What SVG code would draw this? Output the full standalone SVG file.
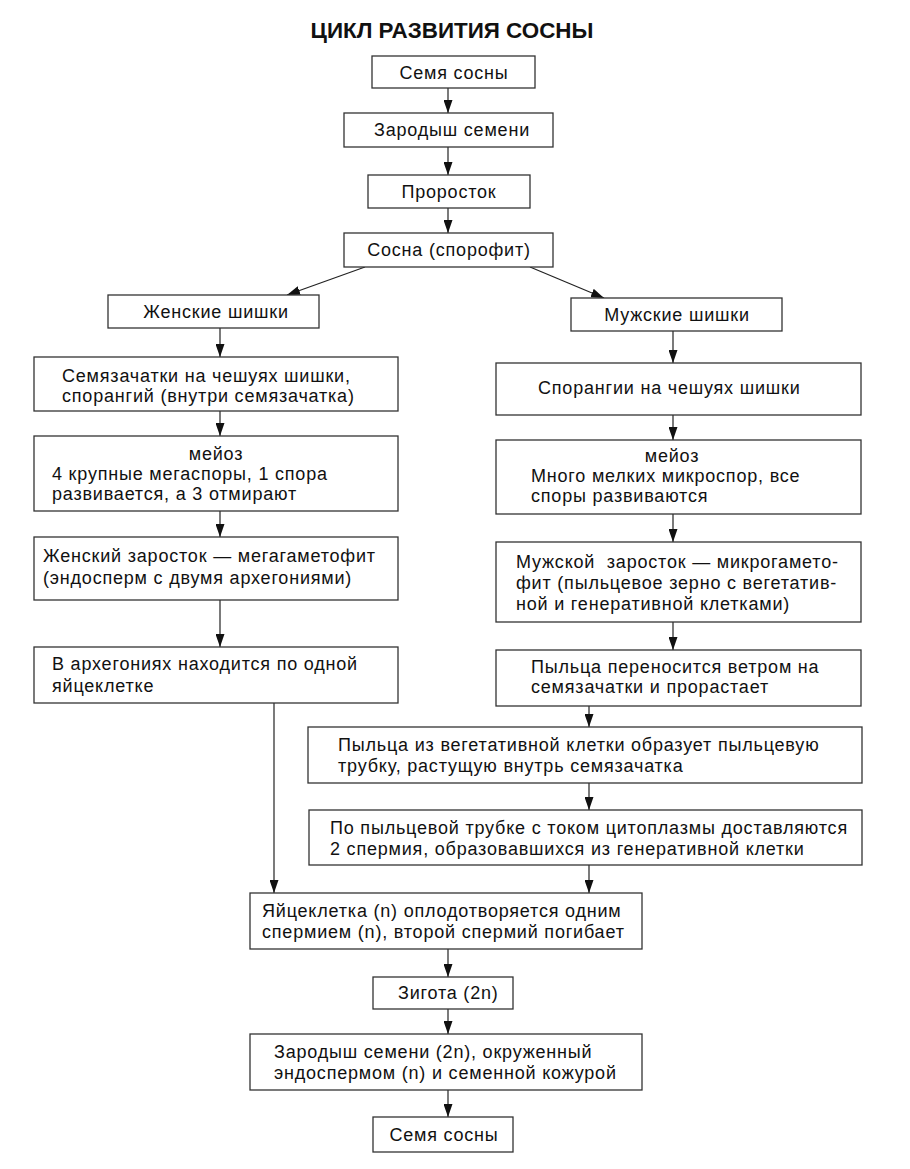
<svg xmlns="http://www.w3.org/2000/svg" width="910" height="1169" viewBox="0 0 910 1169">
<defs>
<marker id="ah" viewBox="0 0 10 12" refX="10" refY="6" markerWidth="13" markerHeight="9" markerUnits="userSpaceOnUse" orient="auto" preserveAspectRatio="none">
<path d="M0,0 L10,6 L0,12 z" fill="#111"/>
</marker>
<style>
.b{fill:#fff;stroke:#333;stroke-width:1.3}
.t{font-family:"Liberation Sans",Arial,sans-serif;font-size:18px;letter-spacing:0.8px;fill:#111}
.c{text-anchor:middle}
.ttl{font-family:"Liberation Sans",Arial,sans-serif;font-size:22.4px;font-weight:bold;fill:#111;text-anchor:middle}
.ln{stroke:#222;stroke-width:1.2;fill:none;marker-end:url(#ah)}
</style>
</defs>
<rect width="910" height="1169" fill="#fff"/>
<text class="ttl" x="452" y="38">ЦИКЛ РАЗВИТИЯ СОСНЫ</text>

<g id="connectors">
<line class="ln" x1="448" y1="88" x2="448" y2="113"/>
<line class="ln" x1="448" y1="147" x2="448" y2="175"/>
<line class="ln" x1="448" y1="208" x2="448" y2="233"/>
<line class="ln" x1="365" y1="267" x2="287" y2="295"/>
<line class="ln" x1="530" y1="267" x2="604" y2="298"/>
<line class="ln" x1="220" y1="328" x2="220" y2="357"/>
<line class="ln" x1="220" y1="411" x2="220" y2="436"/>
<line class="ln" x1="220" y1="511" x2="220" y2="537"/>
<line class="ln" x1="220" y1="600" x2="220" y2="647"/>
<line class="ln" x1="274" y1="703" x2="274" y2="893"/>
<line class="ln" x1="673" y1="331" x2="673" y2="363"/>
<line class="ln" x1="673" y1="415" x2="673" y2="440"/>
<line class="ln" x1="673" y1="514" x2="673" y2="542"/>
<line class="ln" x1="673" y1="622" x2="673" y2="650"/>
<line class="ln" x1="589" y1="706" x2="589" y2="727"/>
<line class="ln" x1="589" y1="783" x2="589" y2="810"/>
<line class="ln" x1="589" y1="865" x2="589" y2="893"/>
<line class="ln" x1="448" y1="949" x2="448" y2="977"/>
<line class="ln" x1="448" y1="1009" x2="448" y2="1034"/>
<line class="ln" x1="448" y1="1090" x2="448" y2="1117"/>
</g>

<g id="seed-top"><rect class="b" x="372" y="56" width="163" height="32"/><text class="t c" x="454" y="79">Семя сосны</text></g>
<g id="embryo-top"><rect class="b" x="344" y="113" width="209" height="34"/><text class="t c" x="452" y="136">Зародыш семени</text></g>
<g id="sprout"><rect class="b" x="368" y="175" width="162" height="33"/><text class="t c" x="449" y="198">Проросток</text></g>
<g id="pine"><rect class="b" x="344" y="233" width="209" height="34"/><text class="t c" x="449" y="256">Сосна (спорофит)</text></g>

<g id="female-cones"><rect class="b" x="108" y="295" width="211" height="33"/><text class="t c" x="216" y="318">Женские шишки</text></g>
<g id="ovules"><rect class="b" x="34" y="357" width="364" height="54"/><text class="t" x="62" y="382">Семязачатки на чешуях шишки,</text><text class="t" x="62" y="402">спорангий (внутри семязачатка)</text></g>
<g id="meiosis-f"><rect class="b" x="34" y="436" width="364" height="75"/><text class="t c" x="216" y="460">мейоз</text><text class="t" x="52" y="480">4 крупные мегаспоры, 1 спора</text><text class="t" x="52" y="500">развивается, а 3 отмирают</text></g>
<g id="female-gam"><rect class="b" x="34" y="537" width="364" height="63"/><text class="t" x="43" y="562">Женский заросток — мегагаметофит</text><text class="t" x="43" y="584">(эндосперм с двумя архегониями)</text></g>
<g id="archegonia"><rect class="b" x="34" y="647" width="364" height="56"/><text class="t" x="52" y="670">В архегониях находится по одной</text><text class="t" x="52" y="692">яйцеклетке</text></g>

<g id="male-cones"><rect class="b" x="571" y="298" width="211" height="33"/><text class="t c" x="677" y="321">Мужские шишки</text></g>
<g id="sporangia"><rect class="b" x="496" y="363" width="365" height="52"/><text class="t" x="538" y="394">Спорангии на чешуях шишки</text></g>
<g id="meiosis-m"><rect class="b" x="496" y="440" width="365" height="74"/><text class="t c" x="672" y="462">мейоз</text><text class="t" x="531" y="482">Много мелких микроспор, все</text><text class="t" x="531" y="502">споры развиваются</text></g>
<g id="male-gam"><rect class="b" x="496" y="542" width="365" height="80"/><text class="t" x="516" y="568" xml:space="preserve">Мужской  заросток — микрогамето-</text><text class="t" x="516" y="589">фит (пыльцевое зерно с вегетатив-</text><text class="t" x="516" y="610">ной и генеративной клетками)</text></g>
<g id="pollination"><rect class="b" x="496" y="650" width="365" height="56"/><text class="t" x="531" y="673">Пыльца переносится ветром на</text><text class="t" x="531" y="693">семязачатки и прорастает</text></g>

<g id="pollen-tube"><rect class="b" x="308" y="727" width="554" height="56"/><text class="t" x="338" y="751">Пыльца из вегетативной клетки образует пыльцевую</text><text class="t" x="338" y="772">трубку, растущую внутрь семязачатка</text></g>
<g id="sperm"><rect class="b" x="309" y="810" width="553" height="55"/><text class="t" x="330" y="834">По пыльцевой трубке с током цитоплазмы доставляются</text><text class="t" x="330" y="855">2 спермия, образовавшихся из генеративной клетки</text></g>

<g id="fertilization"><rect class="b" x="250" y="893" width="392" height="56"/><text class="t" x="262" y="917">Яйцеклетка (n) оплодотворяется одним</text><text class="t" x="262" y="938">спермием (n), второй спермий погибает</text></g>
<g id="zygote"><rect class="b" x="373" y="977" width="140" height="32"/><text class="t" x="398" y="999">Зигота (2n)</text></g>
<g id="embryo"><rect class="b" x="250" y="1034" width="392" height="56"/><text class="t" x="274" y="1058">Зародыш семени (2n), окруженный</text><text class="t" x="274" y="1079">эндоспермом (n) и семенной кожурой</text></g>
<g id="seed-bottom"><rect class="b" x="373" y="1117" width="140" height="35"/><text class="t c" x="444" y="1141">Семя сосны</text></g>
</svg>
